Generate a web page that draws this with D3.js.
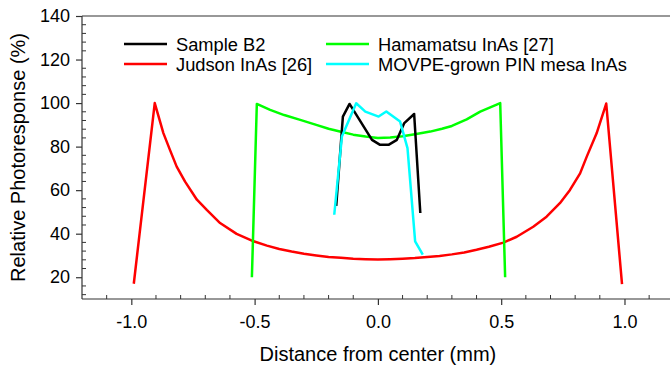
<!DOCTYPE html>
<html>
<head>
<meta charset="utf-8">
<script src="https://cdn.jsdelivr.net/npm/d3@7"></script>
<style>
  body { margin: 0; background: #fff; }
  text { font-family: Arial, "Liberation Sans", sans-serif; fill: #000; }
</style>
</head>
<body>
<div id="chart"></div>
<script>
// Data (x in mm, y in %)
const sampleB2X = [-0.169, -0.142, -0.115, -0.079, -0.024, 0.009, 0.043, 0.077, 0.107, 0.147, 0.172];
const sampleB2Y = [52.8, 93.8, 99.6, 93.1, 83.1, 80.8, 80.8, 83.1, 90.8, 95.0, 49.5];

const judsonX = [-0.99, -0.905, -0.87, -0.843, -0.816, -0.782, -0.734, -0.694, -0.64, -0.573, -0.504,
                 -0.45, -0.40, -0.35, -0.30, -0.25, -0.20, -0.15, -0.10, -0.05, 0.0,
                 0.05, 0.10, 0.15, 0.20, 0.25, 0.30, 0.35, 0.40, 0.45, 0.509, 0.563, 0.630,
                 0.684, 0.738, 0.779, 0.82, 0.847, 0.887, 0.926, 0.99];
const judsonY = [17, 100, 86.2, 78.4, 70.8, 63.9, 55.6, 50.9, 44.9, 39.9, 36.5,
                 34.5, 33.0, 31.8, 30.8, 30.0, 29.3, 28.9, 28.5, 28.3, 28.2,
                 28.3, 28.5, 28.8, 29.3, 29.8, 30.5, 31.4, 32.6, 34.0, 35.9, 38.6, 43.2,
                 47.8, 54.0, 60.1, 67.7, 75.4, 86.1, 99.8, 16.8];

const hamamatsuX = [-0.511, -0.491, -0.437, -0.38, -0.315, -0.25, -0.2, -0.15, -0.1, -0.05, 0.0,
                    0.05, 0.1, 0.15, 0.212, 0.26, 0.3, 0.36, 0.415, 0.496, 0.516];
const hamamatsuY = [20, 99.6, 96.9, 94.5, 92.3, 90.0, 88.2, 86.8, 85.5, 84.6, 84.0,
                    84.2, 84.8, 85.7, 86.9, 88.2, 89.5, 92.5, 96.1, 100, 20];

const movpeX = [-0.177, -0.146, -0.088, -0.051, 0.003, 0.034, 0.09, 0.12, 0.151, 0.182];
const movpeY = [48.7, 84.6, 99.9, 96.1, 93.8, 96.1, 91.5, 79.3, 36.5, 30.4];

const seriesNames = ["Sample B2", "Judson InAs [26]", "Hamamatsu InAs [27]", "MOVPE-grown PIN mesa InAs"];
const seriesColors = ["#000000", "#ff0000", "#00ff00", "#00ffff"];

const xMajorTicks = [-1.0, -0.5, 0.0, 0.5, 1.0];
const yMajorTicks = [20, 40, 60, 80, 100, 120, 140];

const width = 670, height = 366;
const plotLeft = 82, plotTop = 16, plotBottom = 299;

const svg = d3.select("#chart").append("svg")
  .attr("width", width)
  .attr("height", height);

const x = d3.scaleLinear().domain([-1.2, 1.2]).range([plotLeft, 673.8]);
const y = d3.scaleLinear().domain([10, 140]).range([plotBottom, plotTop]);

const axisColor = "#333";

// top frame line
svg.append("line").attr("x1", plotLeft).attr("x2", width).attr("y1", plotTop).attr("y2", plotTop)
  .attr("stroke", axisColor).attr("stroke-width", 1.2);

// x axis: major ticks outward, minor inward
const xMinor = d3.range(-11, 13).map(d => d / 10).filter(d => Math.abs(d * 2 - Math.round(d * 2)) > 1e-6);
const gx = svg.append("g").attr("transform", `translate(0,${plotBottom})`);
gx.call(d3.axisBottom(x).tickValues(xMajorTicks).tickSize(6).tickPadding(10)
  .tickFormat(d => d3.format(".1f")(d).replace("−", "-")));
gx.select(".domain").attr("d", `M${plotLeft},0H${width}`);
gx.selectAll("line, path").attr("stroke", axisColor).attr("stroke-width", 1.2);
gx.selectAll("text").style("font-size", "18px");
gx.append("g").selectAll("line")
  .data(xMinor)
  .join("line")
  .attr("x1", d => x(d)).attr("x2", d => x(d))
  .attr("y1", 0).attr("y2", -4)
  .attr("stroke", axisColor).attr("stroke-width", 1);

// y axis
const yMinor = d3.range(12, 140, 4).filter(d => d % 20 !== 0);
const gy = svg.append("g").attr("transform", `translate(${plotLeft},0)`);
gy.call(d3.axisLeft(y).tickValues(yMajorTicks).tickSize(6).tickPadding(6));
gy.select(".domain").attr("d", `M0,${plotTop}V${plotBottom}`);
gy.selectAll("line, path").attr("stroke", axisColor).attr("stroke-width", 1.2);
gy.selectAll("text").style("font-size", "18px");
gy.append("g").selectAll("line")
  .data(yMinor)
  .join("line")
  .attr("x1", 0).attr("x2", 4)
  .attr("y1", d => y(d)).attr("y2", d => y(d))
  .attr("stroke", axisColor).attr("stroke-width", 1);

// axis titles
svg.append("text")
  .attr("x", x(0)).attr("y", 361)
  .attr("text-anchor", "middle")
  .style("font-size", "20px")
  .text("Distance from center (mm)");

svg.append("text")
  .attr("transform", `translate(25,${(plotTop + plotBottom) / 2}) rotate(-90)`)
  .attr("text-anchor", "middle")
  .style("font-size", "20px")
  .text("Relative Photoresponse (%)");

// data lines
const series = [
  { xs: judsonX, ys: judsonY, color: seriesColors[1] },
  { xs: hamamatsuX, ys: hamamatsuY, color: seriesColors[2] },
  { xs: sampleB2X, ys: sampleB2Y, color: seriesColors[0] },
  { xs: movpeX, ys: movpeY, color: seriesColors[3] }
];

const line = d3.line().x(d => x(d[0])).y(d => y(d[1]));

svg.append("g").selectAll("path")
  .data(series)
  .join("path")
  .attr("d", s => line(d3.zip(s.xs, s.ys)))
  .attr("fill", "none")
  .attr("stroke", s => s.color)
  .attr("stroke-width", 2.5)
  .attr("stroke-linejoin", "round");

// legend
const legendPos = [[124, 44], [124, 64], [326, 44], [326, 64]];
const legend = svg.append("g").selectAll("g")
  .data(seriesNames)
  .join("g")
  .attr("transform", (d, i) => `translate(${legendPos[i][0]},${legendPos[i][1]})`);
legend.append("line")
  .attr("x1", 0).attr("x2", 43)
  .attr("stroke", (d, i) => seriesColors[i])
  .attr("stroke-width", 2.5);
legend.append("text")
  .attr("x", 52).attr("y", 6.5)
  .style("font-size", "18.3px")
  .text(d => d);
</script>
</body>
</html>
